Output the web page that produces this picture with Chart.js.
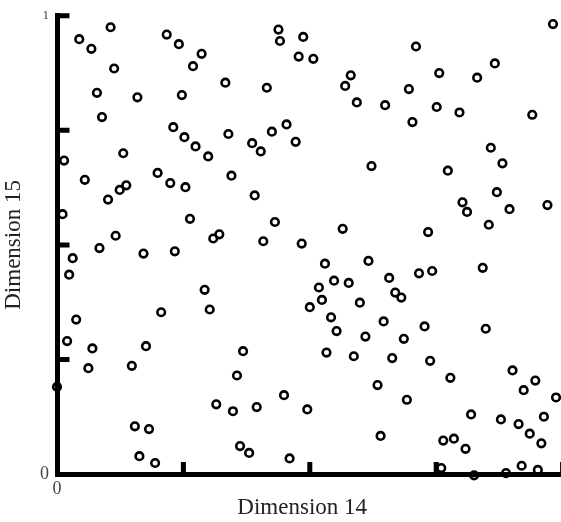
<!DOCTYPE html>
<html>
<head>
<meta charset="utf-8">
<script src="https://cdn.jsdelivr.net/npm/chart.js@4.4.1/dist/chart.umd.min.js"></script>
<style>
  html, body { margin: 0; padding: 0; background: #fff; overflow: hidden; }
  canvas { display: block; }
</style>
</head>
<body>
<!-- a bit wider than the window: the reference cuts the x axis just past its last tick -->
<canvas id="chart" width="569" height="522"></canvas>
<script>
// Dimension 14 vs Dimension 15 scatter
const dim14 = [
  0.106, 0.044, 0.068, 0.113, 0.079, 0.159, 0.089, 0.217, 0.241, 0.286,
  0.269, 0.247, 0.333, 0.230, 0.252, 0.274, 0.299, 0.339, 0.014, 0.131,
  0.055, 0.137, 0.124, 0.101, 0.199, 0.224, 0.254, 0.011, 0.263, 0.116,
  0.309, 0.321, 0.084, 0.171, 0.233, 0.031, 0.024, 0.292, 0.302, 0.206,
  0.038, 0.020, 0.070, 0.176, 0.062, 0.148, 0.000, 0.315, 0.154, 0.182,
  0.163, 0.194,
  0.438, 0.441, 0.487, 0.478, 0.507, 0.415, 0.581, 0.570, 0.593, 0.649,
  0.386, 0.403, 0.425, 0.454, 0.472, 0.622, 0.345, 0.391, 0.431, 0.565,
  0.408, 0.484,
  0.981, 0.710, 0.756, 0.866, 0.831, 0.696, 0.751, 0.796, 0.703, 0.940,
  0.858, 0.881, 0.773, 0.870, 0.802, 0.811, 0.895, 0.970, 0.854, 0.734,
  0.530, 0.616, 0.657, 0.669, 0.681, 0.548, 0.577, 0.518, 0.524, 0.500,
  0.599, 0.542, 0.553, 0.646, 0.610, 0.533, 0.587, 0.663, 0.368, 0.356,
  0.348, 0.395, 0.449, 0.495, 0.634, 0.640, 0.362, 0.380, 0.460,
  0.716, 0.742, 0.842, 0.727, 0.848, 0.686, 0.738, 0.778, 0.692, 0.901,
  0.946, 0.923, 0.987, 0.819, 0.878, 0.913, 0.963, 0.935, 0.958, 0.764,
  0.785, 0.808, 0.760, 0.825, 0.888, 0.919, 0.951,
];
const dim15 = [
  0.975, 0.949, 0.928, 0.885, 0.832, 0.822, 0.779, 0.959, 0.938, 0.917,
  0.890, 0.827, 0.854, 0.757, 0.735, 0.715, 0.693, 0.742, 0.684, 0.700,
  0.642, 0.630, 0.620, 0.599, 0.657, 0.635, 0.626, 0.567, 0.557, 0.520,
  0.514, 0.523, 0.493, 0.481, 0.486, 0.471, 0.435, 0.402, 0.359, 0.353,
  0.337, 0.290, 0.274, 0.279, 0.231, 0.236, 0.190, 0.152, 0.104, 0.098,
  0.039, 0.024,
  0.970, 0.945, 0.954, 0.911, 0.906, 0.843, 0.870, 0.847, 0.811, 0.805,
  0.722, 0.704, 0.747, 0.763, 0.725, 0.672, 0.651, 0.608, 0.550, 0.535,
  0.508, 0.503,
  0.982, 0.933, 0.875, 0.896, 0.865, 0.840, 0.801, 0.789, 0.768, 0.784,
  0.712, 0.678, 0.662, 0.615, 0.593, 0.572, 0.578, 0.587, 0.544, 0.528,
  0.459, 0.465, 0.428, 0.396, 0.385, 0.422, 0.417, 0.407, 0.380, 0.364,
  0.374, 0.342, 0.312, 0.333, 0.300, 0.265, 0.257, 0.253, 0.268, 0.215,
  0.137, 0.146, 0.172, 0.141, 0.194, 0.083, 0.061, 0.046, 0.034,
  0.438, 0.443, 0.450, 0.322, 0.317, 0.295, 0.247, 0.210, 0.162, 0.226,
  0.204, 0.183, 0.167, 0.130, 0.119, 0.109, 0.125, 0.088, 0.067, 0.073,
  0.077, 0.055, 0.013, -0.003, 0.002, 0.018, 0.009,
];
const axisTicks = [0.25, 0.5, 0.75, 1];
const xLabels = { 0: '0' };
const yLabels = { 0: '0', 1: '1' };
const xTitle = 'Dimension 14';
const yTitle = 'Dimension 15';

const SERIF = "'Liberation Serif', 'Times New Roman', serif";
const INK = '#000';

// inward tick marks, as in the reference (Chart.js only draws them outward)
const inwardTicks = {
  id: 'inwardTicks',
  beforeDatasetsDraw(chart) {
    const { ctx, chartArea, scales } = chart;
    ctx.save();
    ctx.strokeStyle = INK;
    ctx.lineWidth = 5;
    ctx.lineCap = 'butt';
    for (const v of axisTicks) {
      const px = scales.x.getPixelForValue(v);
      const py = scales.y.getPixelForValue(v);
      ctx.beginPath();
      ctx.moveTo(px, chartArea.bottom);
      ctx.lineTo(px, chartArea.bottom - 12);
      ctx.moveTo(chartArea.left, py);
      ctx.lineTo(chartArea.left + 12.5, py);
      ctx.stroke();
    }
    ctx.restore();
  },
};

// x title sits left of the axis centre in the reference, so place it by hand
const xAxisTitle = {
  id: 'xAxisTitle',
  afterDraw(chart) {
    const { ctx, scales } = chart;
    ctx.save();
    ctx.font = '23px ' + SERIF;
    ctx.fillStyle = '#222';
    ctx.textAlign = 'center';
    ctx.textBaseline = 'middle';
    ctx.fillText(xTitle, scales.x.getPixelForValue(0.485), 508);
    ctx.restore();
  },
};

new Chart(document.getElementById('chart'), {
  type: 'scatter',
  data: {
    datasets: [{
      data: dim14.map((x, i) => ({ x, y: dim15[i] })),
      pointRadius: 3.8,
      pointHoverRadius: 3.8,
      borderWidth: 2.6,
      borderColor: INK,
      backgroundColor: 'rgba(0,0,0,0)',
      clip: false,
    }],
  },
  options: {
    responsive: false,
    animation: false,
    layout: { padding: { top: 14, right: 1, left: 0, bottom: 0 } },
    plugins: { legend: { display: false }, tooltip: { enabled: false } },
    scales: {
      x: {
        min: 0,
        max: 1,
        afterFit: s => { s.height = 48; },
        border: { display: true, width: 5, color: INK },
        grid: { drawOnChartArea: false, drawTicks: false },
        ticks: {
          stepSize: 0.25,
          autoSkip: false,
          maxRotation: 0,
          padding: 4,
          color: '#444',
          font: { family: SERIF, size: 18 },
          callback: v => xLabels[v] ?? '',
        },
        title: { display: false },
      },
      y: {
        min: 0,
        max: 1,
        afterFit: s => { s.width = 57; },
        border: { display: true, width: 5, color: INK },
        grid: { drawOnChartArea: false, drawTicks: false },
        ticks: {
          stepSize: 0.25,
          autoSkip: false,
          padding: 8,
          color: '#444',
          font: c => ({ family: SERIF, size: c.tick && c.tick.value === 1 ? 13 : 18 }),
          callback: v => yLabels[v] ?? '',
        },
        title: {
          display: true,
          text: yTitle,
          color: '#222',
          font: { family: SERIF, size: 23 },
          padding: 0,
        },
      },
    },
  },
  plugins: [inwardTicks, xAxisTitle],
});
</script>
</body>
</html>
